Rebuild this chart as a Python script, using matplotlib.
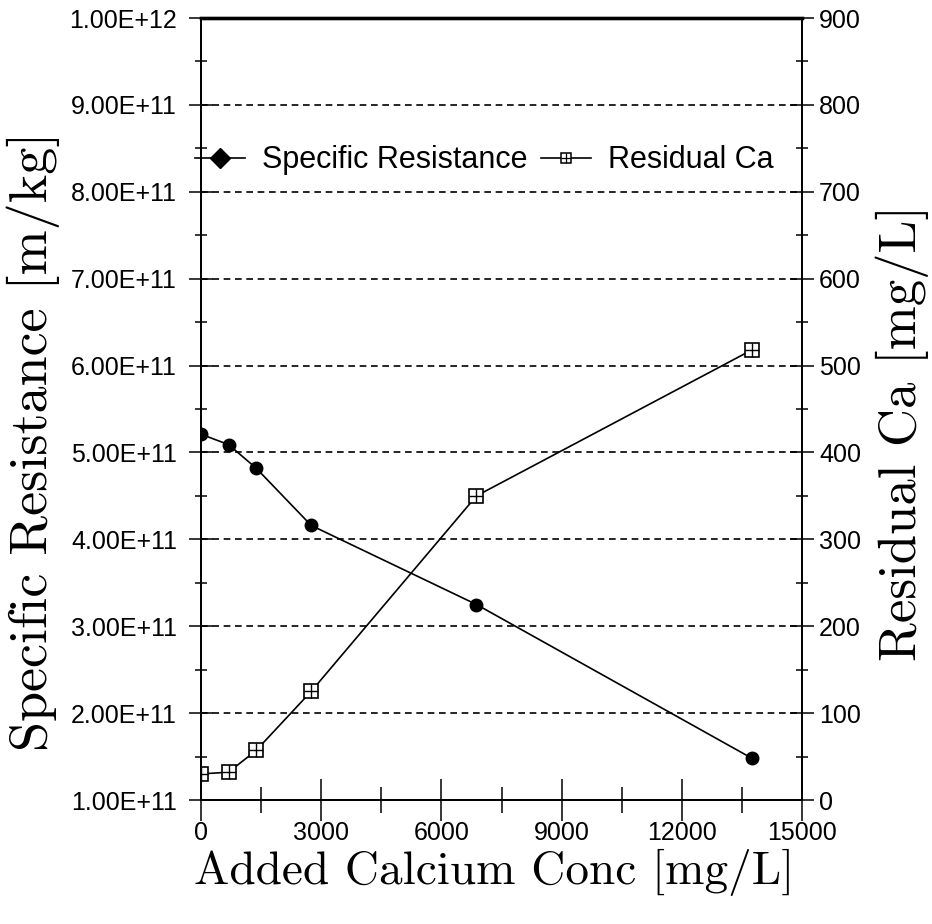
import numpy as np
import matplotlib
matplotlib.use('Agg')
import matplotlib.pyplot as plt
from matplotlib.ticker import MultipleLocator, FormatStrFormatter
from matplotlib.lines import Line2D

# added Ca (mg/L) vs specific resistance (m/kg) and residual Ca (mg/L)
added_ca = [0, 687.5, 1375, 2750, 6875, 13750]
spec_res = [5.21e11, 5.09e11, 4.82e11, 4.16e11, 3.25e11, 1.48e11]
resid_ca = [30, 32, 57, 125, 350, 518]

plt.rcParams['font.family'] = ['Liberation Sans', 'DejaVu Sans']
plt.rcParams['axes.formatter.use_mathtext'] = False
serif = 'cmr10'

fig = plt.figure(figsize=(9.32, 9.24), dpi=100)
ax = fig.add_axes([201/932, 1-800/924, 601/932, 782/924])
ax2 = ax.twinx()

# left axis - specific resistance
ax.plot(added_ca, spec_res, 'k-', lw=1.2, marker='o', ms=9, mfc='k', mec='k', zorder=3)
ax.set_xlim(0, 15000)
ax.set_ylim(1e11, 1e12)
ax.yaxis.set_major_locator(MultipleLocator(1e11))
ax.yaxis.set_minor_locator(MultipleLocator(5e10))
ax.yaxis.set_major_formatter(FormatStrFormatter('%.2E'))
ax.xaxis.set_major_locator(MultipleLocator(3000))
ax.xaxis.set_minor_locator(MultipleLocator(1500))
ax.grid(axis='y', which='major', color='k', lw=1.2, ls=(0, (4, 2.8)))

# right axis - residual calcium
ax2.plot(added_ca, resid_ca, 'k-', lw=1.2, marker='s', ms=9.5, mfc='white', mec='k', mew=1.2, zorder=3)
ax2.plot(added_ca, resid_ca, ls='none', marker='+', ms=9.5, mec='k', mew=1.0, zorder=4)
ax2.set_ylim(0, 900)
ax2.yaxis.set_major_locator(MultipleLocator(100))
ax2.yaxis.set_minor_locator(MultipleLocator(50))

ax.tick_params(axis='y', which='major', direction='inout', length=17.3, width=1.1, pad=8.6, labelsize=18)
ax.tick_params(axis='y', which='minor', direction='inout', length=8, width=1.1)
ax.tick_params(axis='x', which='major', direction='inout', length=30, width=1.1, pad=0, labelsize=18)
ax.tick_params(axis='x', which='minor', direction='inout', length=18.7, width=1.1)
ax2.tick_params(axis='y', which='major', direction='inout', length=17.3, width=1.1, pad=3.6, labelsize=18)
ax2.tick_params(axis='y', which='minor', direction='inout', length=8, width=1.1)

for a in (ax, ax2):
    for s in a.spines.values():
        s.set_linewidth(1.3)
    a.spines['top'].set_linewidth(2.4)

ax.set_xlabel('Added Calcium Conc [mg/L]', family=serif, fontsize=34)
ax.xaxis.set_label_coords(0.487, -0.063)
ax.set_ylabel('Specific Resistance [m/kg]', family=serif, fontsize=39)
ax.yaxis.set_label_coords(-0.235, 0.459)
ax2.set_ylabel('Residual Ca [mg/L]', family=serif, fontsize=38)
ax2.yaxis.set_label_coords(1.122, 0.47)

# legend with diamond marker and crossed square
h1 = Line2D([], [], color='k', lw=1.2, marker='D', ms=10, mfc='k', mec='k')
h2a = Line2D([], [], color='k', lw=1.2, marker='s', ms=7, mfc='white', mec='k', mew=1.1)
h2b = Line2D([], [], ls='none', marker='+', ms=7, mec='k', mew=0.9)
ax2.legend([h1, (h2a, h2b)], ['Specific Resistance', 'Residual Ca'], ncol=2,
           loc='center left', bbox_to_anchor=(-0.01, 0.818), frameon=False,
           fontsize=22, borderpad=0, borderaxespad=0, handlelength=1.65,
           handletextpad=0.55, columnspacing=0.42, numpoints=1)

fig.savefig('out.png', dpi=100)
